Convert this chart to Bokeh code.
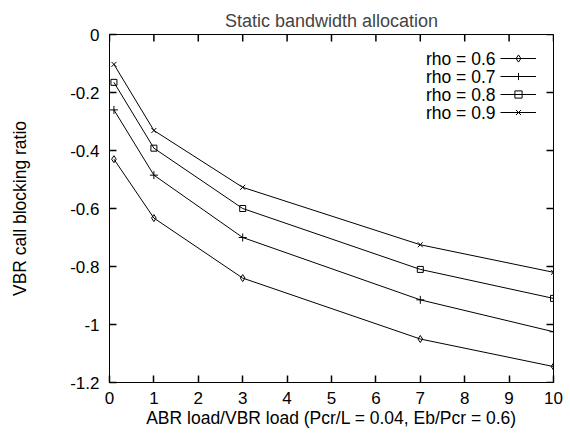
import math
from bokeh.plotting import figure
from bokeh.models import FixedTicker, Legend, LegendItem, Label, Range1d
from bokeh.core.properties import value
from bokeh.embed import file_html
from bokeh.resources import INLINE

# ---- data ----
x_load = [0.1, 1, 3, 7, 10]
rho_06 = [-0.43, -0.633, -0.84, -1.05, -1.145]
rho_07 = [-0.26, -0.485, -0.70, -0.915, -1.025]
rho_08 = [-0.165, -0.392, -0.60, -0.81, -0.91]
rho_09 = [-0.103, -0.331, -0.527, -0.725, -0.82]
series_labels = ["rho = 0.6", "rho = 0.7", "rho = 0.8", "rho = 0.9"]
x_ticks = [0, 1, 2, 3, 4, 5, 6, 7, 8, 9, 10]
y_ticks = [0, -0.2, -0.4, -0.6, -0.8, -1, -1.2]
y_tick_labels = ["0", "-0.2", "-0.4", "-0.6", "-0.8", "-1", "-1.2"]
x_min, x_max = 0, 10
y_min, y_max = -1.2, 0

FONT = "Liberation Sans"
FS = "17px"
FS_LAB = "17.5px"
TICK = 7

p = figure(frame_width=444, frame_height=348,
           x_range=Range1d(x_min, x_max), y_range=Range1d(y_min, y_max),
           output_backend="svg", toolbar_location=None,
           min_border_left=109, min_border_right=17,
           min_border_top=34, min_border_bottom=54,
           title="Static bandwidth allocation",
           x_axis_label="ABR load/VBR load (Pcr/L = 0.04, Eb/Pcr = 0.6)",
           y_axis_label="VBR call blocking ratio")
p.background_fill_color = "white"
p.border_fill_color = "white"
p.outline_line_color = "black"
p.outline_line_width = 1
p.xgrid.visible = False
p.ygrid.visible = False

p.title.text_font = FONT
p.title.text_font_size = "18px"
p.title.text_font_style = "normal"
p.title.align = "center"
p.title.standoff = 7

def style_axis(ax):
    ax.axis_line_color = "black"
    ax.axis_line_width = 1
    ax.major_tick_in = TICK
    ax.major_tick_out = 0
    ax.minor_tick_in = 0
    ax.minor_tick_out = 0
    ax.major_tick_line_color = "black"
    ax.major_tick_line_width = 1.5
    ax.major_label_text_font = FONT
    ax.major_label_text_font_size = FS
    ax.major_label_text_color = "black"
    ax.axis_label_text_font = FONT
    ax.axis_label_text_font_size = FS_LAB
    ax.axis_label_text_font_style = "normal"
    ax.axis_label_text_color = "black"

xa = p.xaxis[0]
ya = p.yaxis[0]
xa.ticker = FixedTicker(ticks=x_ticks)
ya.ticker = FixedTicker(ticks=y_ticks)
ya.major_label_overrides = {t: l for t, l in zip(y_ticks, y_tick_labels)}
style_axis(xa)
style_axis(ya)
xa.major_label_standoff = 9
xa.axis_label_standoff = 1
ya.major_label_standoff = 10
ya.axis_label_standoff = 37

# mirrored inward ticks on the right and top borders
p.ray([x_max] * len(y_ticks), y_ticks, length=TICK, length_units="screen",
      angle=math.pi, line_color="black", line_width=1.5)
p.ray(x_ticks, [y_max] * len(x_ticks), length=TICK, length_units="screen",
      angle=-math.pi / 2, line_color="black", line_width=1.5)

series = [rho_06, rho_07, rho_08, rho_09]
markers = ["diamond", "cross", "square", "x"]
msizes = [7, 8, 6, 7]
items = []
for ys, m, s in zip(series, markers, msizes):
    ln = p.line(x_load, ys, line_color="black", line_width=1)
    sc = p.scatter(x_load, ys, marker=m, size=s, line_color="black",
                   fill_color="white", fill_alpha=0, line_width=1)
    items.append(LegendItem(label=value(" "), renderers=[ln, sc]))

leg = Legend(items=items, location=(391, 261), orientation="vertical",
             glyph_width=36, glyph_height=18, label_width=0, label_height=1,
             label_standoff=0, label_text_font_size="1px", spacing=0,
             padding=0, margin=0, background_fill_alpha=0,
             border_line_alpha=0)
p.add_layout(leg)

row_centers = [324, 306, 288, 270]
for lab, yc in zip(series_labels, row_centers):
    p.add_layout(Label(x=386, y=yc, x_units="screen", y_units="screen",
                       text=lab, text_align="right", text_baseline="middle",
                       text_font=FONT, text_font_size=FS_LAB, text_color="black"))

open("out.html", "w").write(file_html(p, INLINE))
